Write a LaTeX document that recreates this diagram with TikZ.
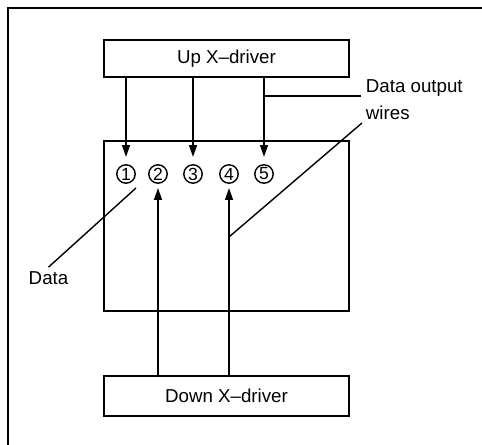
\documentclass[tikz,border=0pt]{standalone}
\usepackage{fontspec}
\setmainfont{Liberation Sans}
\usetikzlibrary{arrows.meta}

\tikzset{
  driver/.style={draw, line width=2pt, minimum width=6.125cm, minimum height=0.95cm, font=\fontsize{13.3}{16}\selectfont},
  num/.style={draw, circle, line width=1pt, minimum size=0.46cm, inner sep=0pt, font=\fontsize{12.5}{13}\selectfont},
  lbl/.style={font=\fontsize{13.3}{16}\selectfont},
  leader/.style={line width=1pt},
  wire/.style={->, line width=1.3pt},
}

\begin{document}
\begin{tikzpicture}[>={Triangle[length=8.5pt,width=5.5pt]}, x=0.025cm, y=-0.025cm]
    \useasboundingbox (0,0) rectangle (482,445);
    % Khung ngoài
    \draw[line width=1.8pt] (482,8) -- (8,8) -- (8,445);

    % Các bộ điều khiển và màn hình
    \node[driver, minimum height=0.925cm] (up) at (226.5,58.5) {Up X--driver};
    \node[driver, minimum height=1cm] (down) at (226.5,396) {Down X--driver};
    \node[draw, line width=2pt, minimum width=6.125cm, minimum height=4.25cm] (screen) at (226.5,226) {};

    % Các điểm dữ liệu
    \foreach \i/\x in {1/126,2/158,3/193,4/229,5/264}
        \node[num] (c\i) at (\x,174) {\i};

    % Dây dẫn dữ liệu
    \foreach \i in {1,3,5}
        \draw[wire, shorten >=1.75mm] (up.south -| c\i) -- (c\i.north);
    \foreach \i in {2,4}
        \draw[wire, shorten >=1mm] (down.north -| c\i) -- (c\i.south);

    % Nhãn
    \node[lbl, anchor=base west] (out) at (361,93) {Data output};
    \node[lbl, anchor=base west] (wires) at (361,120) {wires};
    \node[lbl, anchor=base] (data) at (48.5,285) {Data};

    \coordinate (w1) at (264,96);
    \coordinate (w2) at (229,237);
    \coordinate (w3) at (362,123);
    \coordinate (d1) at (136,188);
    \draw[leader] (w1) -- (w1 -| out.west);
    \draw[leader] (w2) -- (w3);
    \draw[leader] (d1) -- (data.north);
\end{tikzpicture}
\end{document}
